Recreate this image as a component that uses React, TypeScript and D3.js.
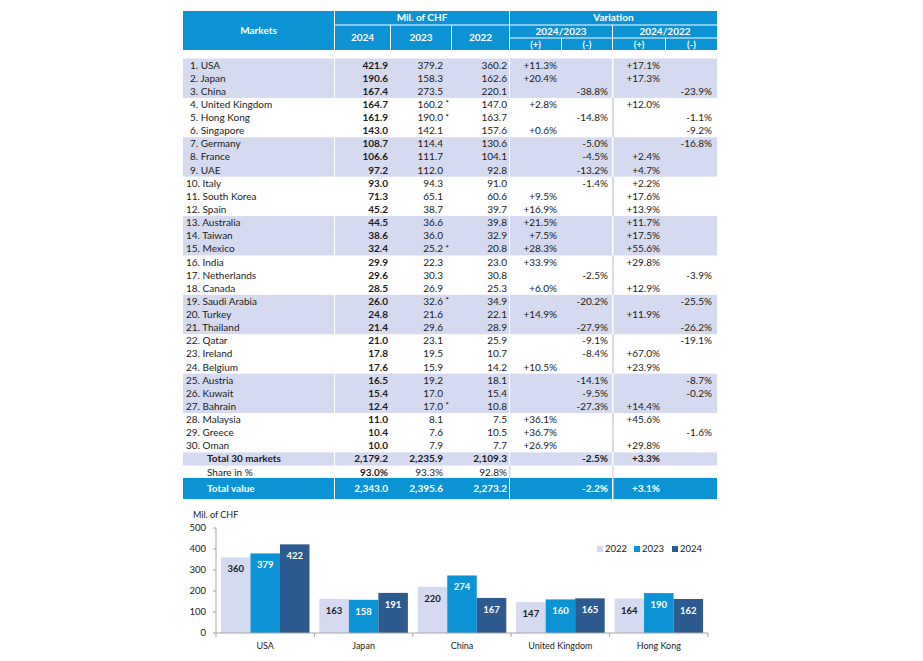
import React from "react";
import * as d3 from "d3";

// ---------- Table data ----------
const markets = ["USA","Japan","China","United Kingdom","Hong Kong","Singapore","Germany","France","UAE","Italy","South Korea","Spain","Australia","Taiwan","Mexico","India","Netherlands","Canada","Saudi Arabia","Turkey","Thailand","Qatar","Ireland","Belgium","Austria","Kuwait","Bahrain","Malaysia","Greece","Oman"];
const values2024 = [421.9,190.6,167.4,164.7,161.9,143.0,108.7,106.6,97.2,93.0,71.3,45.2,44.5,38.6,32.4,29.9,29.6,28.5,26.0,24.8,21.4,21.0,17.8,17.6,16.5,15.4,12.4,11.0,10.4,10.0];
const values2023 = [379.2,158.3,273.5,160.2,190.0,142.1,114.4,111.7,112.0,94.3,65.1,38.7,36.6,36.0,25.2,22.3,30.3,26.9,32.6,21.6,29.6,23.1,19.5,15.9,19.2,17.0,17.0,8.1,7.6,7.9];
const values2022 = [360.2,162.6,220.1,147.0,163.7,157.6,130.6,104.1,92.8,91.0,60.6,39.7,39.8,32.9,20.8,23.0,30.8,25.3,34.9,22.1,28.9,25.9,10.7,14.2,18.1,15.4,10.8,7.5,10.5,7.7];
const revised2023 = [4,5,15,19,27];
const change2423 = [11.3,20.4,-38.8,2.8,-14.8,0.6,-5.0,-4.5,-13.2,-1.4,9.5,16.9,21.5,7.5,28.3,33.9,-2.5,6.0,-20.2,14.9,-27.9,-9.1,-8.4,10.5,-14.1,-9.5,-27.3,36.1,36.7,26.9];
const change2422 = [17.1,17.3,-23.9,12.0,-1.1,-9.2,-16.8,2.4,4.7,2.2,17.6,13.9,11.7,17.5,55.6,29.8,-3.9,12.9,-25.5,11.9,-26.2,-19.1,67.0,23.9,-8.7,-0.2,14.4,45.6,-1.6,29.8];
const shadedGroups = [[1,3],[7,9],[13,15],[19,21],[25,27]];

const total30 = [2179.2,2235.9,2109.3];
const total30Change = [-2.5,3.3];
const sharePct = [93.0,93.3,92.8];
const totalValue = [2343.0,2395.6,2273.2];
const totalValueChange = [-2.2,3.1];

// ---------- Bar chart data ----------
const chartCategories = ["USA","Japan","China","United Kingdom","Hong Kong"];
const chartYears = ["2022","2023","2024"];
const chart2022 = [360,163,220,147,164];
const chart2023 = [379,158,274,160,190];
const chart2024 = [422,191,167,165,162];
const yTicks = [0,100,200,300,400,500];

const BLUE = "#0b93d5";
const SHADE = "#d5daf0";
const DARK = "#2d5a8f";
const TXT = "#1b1b1b";
const FONT = "Lato, 'Open Sans', sans-serif";

const fmt = d3.format(",.1f");
const fmtPct = (v: number) => (v > 0 ? "+" : "") + v.toFixed(1) + "%";

export default function App() {
  // Table geometry
  const rowTop = 58.5;
  const rowH = 13.13;
  const rowScale = d3.scaleBand<number>().domain(d3.range(30)).range([rowTop, rowTop + 30 * rowH]).padding(0);
  const y30 = rowTop + 30 * rowH;
  const yShare = y30 + rowH;
  const yTotal = 478;
  const totalH = 21;

  const colGroups: [number, number][] = [[183, 334], [335, 509], [510, 612], [613.5, 717]];
  const xR = { c2024: 388, c2023: 443, c2022: 507, p1: 557, m1: 608, p2: 660, m2: 712 };

  const headerCells: { x0: number; x1: number; y0: number; y1: number; label: string }[] = [
    { x0: 183, x1: 334, y0: 11, y1: 50, label: "Markets" },
    { x0: 335, x1: 509, y0: 11, y1: 24.5, label: "Mil. of CHF" },
    { x0: 335, x1: 390, y0: 25.5, y1: 50, label: "2024" },
    { x0: 391, x1: 451, y0: 25.5, y1: 50, label: "2023" },
    { x0: 452, x1: 509, y0: 25.5, y1: 50, label: "2022" },
    { x0: 510, x1: 717, y0: 11, y1: 24.5, label: "Variation" },
    { x0: 510, x1: 612, y0: 25.5, y1: 37.5, label: "2024/2023" },
    { x0: 613, x1: 717, y0: 25.5, y1: 37.5, label: "2024/2022" },
    { x0: 510, x1: 561, y0: 38.5, y1: 50, label: "(+)" },
    { x0: 562, x1: 612, y0: 38.5, y1: 50, label: "(-)" },
    { x0: 613, x1: 665, y0: 38.5, y1: 50, label: "(+)" },
    { x0: 666, x1: 717, y0: 38.5, y1: 50, label: "(-)" },
  ];

  // Chart geometry
  const x0 = d3.scaleBand<string>().domain(chartCategories).range([216, 708]).paddingInner(0.1).paddingOuter(0.05);
  const x1 = d3.scaleBand<string>().domain(chartYears).range([0, x0.bandwidth()]).padding(0);
  const y = d3.scaleLinear().domain([0, 500]).range([633, 528]);
  const seriesValues = [chart2022, chart2023, chart2024];
  const seriesColors = [SHADE, BLUE, DARK];
  const labelColors = [TXT, "#ffffff", "#ffffff"];
  const step = x0.step();

  const cellText = (x: number, yc: number, s: string, opts: any = {}) => (
    <text x={x} y={yc + 3.5} textAnchor={opts.anchor || "end"} fontWeight={opts.bold ? 700 : 400} fill={opts.fill || TXT} fontSize={opts.size || 10}>
      {s}
    </text>
  );

  return (
    <svg width={923} height={661} style={{ position: "absolute", left: 0, top: 0, background: "#fff" }} fontFamily={FONT}>
      <rect width={923} height={661} fill="#fff" />
      {/* Header */}
      {headerCells.map((c, i) => (
        <g key={"h" + i}>
          <rect x={c.x0} y={c.y0} width={c.x1 - c.x0} height={c.y1 - c.y0} fill={BLUE} />
          <text x={(c.x0 + c.x1) / 2} y={(c.y0 + c.y1) / 2 + 3.5} textAnchor="middle" fill="#fff" fontWeight={700} fontSize={c.label.startsWith("(") ? 9.5 : 10}>
            {c.label}
          </text>
        </g>
      ))}

      {/* Shaded groups */}
      {shadedGroups.map(([a, b], i) => {
        const top = rowScale(a - 1)!;
        const bottom = rowScale(b - 1)! + rowH;
        return colGroups.map(([cx0, cx1], j) => (
          <rect key={"s" + i + "-" + j} x={cx0} y={top} width={cx1 - cx0} height={bottom - top} fill={SHADE} />
        ));
      })}
      {/* Light separator in white rows */}
      {d3.range(30).filter((i) => !shadedGroups.some(([a, b]) => i + 1 >= a && i + 1 <= b)).map((i) => (
        <line key={"sep" + i} x1={613} x2={613} y1={rowScale(i)!} y2={rowScale(i)! + rowH} stroke={SHADE} strokeWidth={2} />
      ))}

      {/* Rows */}
      {markets.map((m, i) => {
        const yc = rowScale(i)! + rowH / 2;
        const rank = i + 1;
        return (
          <g key={"r" + i}>
            {cellText(rank < 10 ? 190 : 186, yc, `${rank}. ${m}`, { anchor: "start" })}
            {cellText(xR.c2024, yc, fmt(values2024[i]), { bold: true })}
            {cellText(xR.c2023, yc, fmt(values2023[i]))}
            {revised2023.includes(rank) && (
              <text x={445.5} y={yc + 2} fontSize={8} fill={TXT} fontWeight={700}>*</text>
            )}
            {cellText(xR.c2022, yc, fmt(values2022[i]))}
            {cellText(change2423[i] >= 0 ? xR.p1 : xR.m1, yc, fmtPct(change2423[i]))}
            {cellText(change2422[i] >= 0 ? xR.p2 : xR.m2, yc, fmtPct(change2422[i]))}
          </g>
        );
      })}

      {/* Total 30 markets */}
      {colGroups.map(([cx0, cx1], j) => (
        <rect key={"t30" + j} x={cx0} y={y30} width={cx1 - cx0} height={rowH} fill={SHADE} />
      ))}
      {cellText(207, y30 + rowH / 2, "Total 30 markets", { anchor: "start", bold: true })}
      {cellText(xR.c2024, y30 + rowH / 2, fmt(total30[0]), { bold: true })}
      {cellText(xR.c2023, y30 + rowH / 2, fmt(total30[1]), { bold: true })}
      {cellText(xR.c2022, y30 + rowH / 2, fmt(total30[2]), { bold: true })}
      {cellText(total30Change[0] >= 0 ? xR.p1 : xR.m1, y30 + rowH / 2, fmtPct(total30Change[0]), { bold: true })}
      {cellText(total30Change[1] >= 0 ? xR.p2 : xR.m2, y30 + rowH / 2, fmtPct(total30Change[1]), { bold: true })}

      {/* Share in % */}
      <line x1={509.5} x2={509.5} y1={yShare} y2={yShare + rowH} stroke={SHADE} strokeWidth={1.5} />
      <line x1={613} x2={613} y1={yShare} y2={yShare + rowH} stroke={SHADE} strokeWidth={1.5} />
      <line x1={183} x2={717} y1={yShare + rowH - 0.5} y2={yShare + rowH - 0.5} stroke={SHADE} strokeWidth={1} />
      {cellText(207, yShare + rowH / 2, "Share in %", { anchor: "start" })}
      {cellText(xR.c2024, yShare + rowH / 2, sharePct[0].toFixed(1) + "%", { bold: true })}
      {cellText(xR.c2023, yShare + rowH / 2, sharePct[1].toFixed(1) + "%")}
      {cellText(xR.c2022, yShare + rowH / 2, sharePct[2].toFixed(1) + "%")}

      {/* Total value */}
      {colGroups.map(([cx0, cx1], j) => (
        <rect key={"tv" + j} x={cx0} y={yTotal} width={cx1 - cx0} height={totalH} fill={BLUE} />
      ))}
      {cellText(207, yTotal + totalH / 2, "Total value", { anchor: "start", bold: true, fill: "#fff" })}
      {cellText(xR.c2024, yTotal + totalH / 2, fmt(totalValue[0]), { bold: true, fill: "#fff" })}
      {cellText(xR.c2023, yTotal + totalH / 2, fmt(totalValue[1]), { bold: true, fill: "#fff" })}
      {cellText(xR.c2022, yTotal + totalH / 2, fmt(totalValue[2]), { bold: true, fill: "#fff" })}
      {cellText(totalValueChange[0] >= 0 ? xR.p1 : xR.m1, yTotal + totalH / 2, fmtPct(totalValueChange[0]), { bold: true, fill: "#fff" })}
      {cellText(totalValueChange[1] >= 0 ? xR.p2 : xR.m2, yTotal + totalH / 2, fmtPct(totalValueChange[1]), { bold: true, fill: "#fff" })}

      {/* ---------- Bar chart ---------- */}
      <text x={193} y={518} fontSize={9} fill={TXT}>Mil. of CHF</text>
      {yTicks.map((t) => (
        <g key={"yt" + t}>
          <line x1={213} x2={216} y1={y(t)} y2={y(t)} stroke="#a6a6a6" />
          <text x={206} y={y(t) + 3.3} textAnchor="end" fontSize={9.5} fill={TXT}>{t}</text>
        </g>
      ))}
      {chartCategories.map((c, ci) => (
        <g key={"g" + c}>
          {seriesValues.map((vals, si) => {
            const bx = x0(c)! + x1(chartYears[si])!;
            const bw = x1.bandwidth();
            return (
              <g key={"b" + si}>
                <rect x={bx} y={y(vals[ci])} width={bw} height={y(0) - y(vals[ci])} fill={seriesColors[si]} />
                <text x={bx + bw / 2} y={y(vals[ci]) + 15} textAnchor="middle" fontSize={9.5} fontWeight={700} fill={labelColors[si]}>
                  {vals[ci]}
                </text>
              </g>
            );
          })}
          <text x={x0(c)! + x0.bandwidth() / 2} y={649} textAnchor="middle" fontSize={9} fill={TXT}>{c}</text>
        </g>
      ))}
      <line x1={216} x2={216} y1={y(500)} y2={y(0)} stroke="#a6a6a6" />
      <line x1={216} x2={708} y1={y(0)} y2={y(0)} stroke="#a6a6a6" />
      {d3.range(chartCategories.length + 1).map((i) => (
        <line key={"xt" + i} x1={216 + i * step} x2={216 + i * step} y1={y(0)} y2={y(0) + 4} stroke="#a6a6a6" />
      ))}
      {/* Legend */}
      {chartYears.map((yr, i) => {
        const lx = [597, 634, 672][i];
        return (
          <g key={"lg" + yr}>
            <rect x={lx} y={546} width={6} height={6} fill={seriesColors[i]} />
            <text x={lx + 8} y={552} fontSize={9.5} fill={TXT}>{yr}</text>
          </g>
        );
      })}
    </svg>
  );
}
